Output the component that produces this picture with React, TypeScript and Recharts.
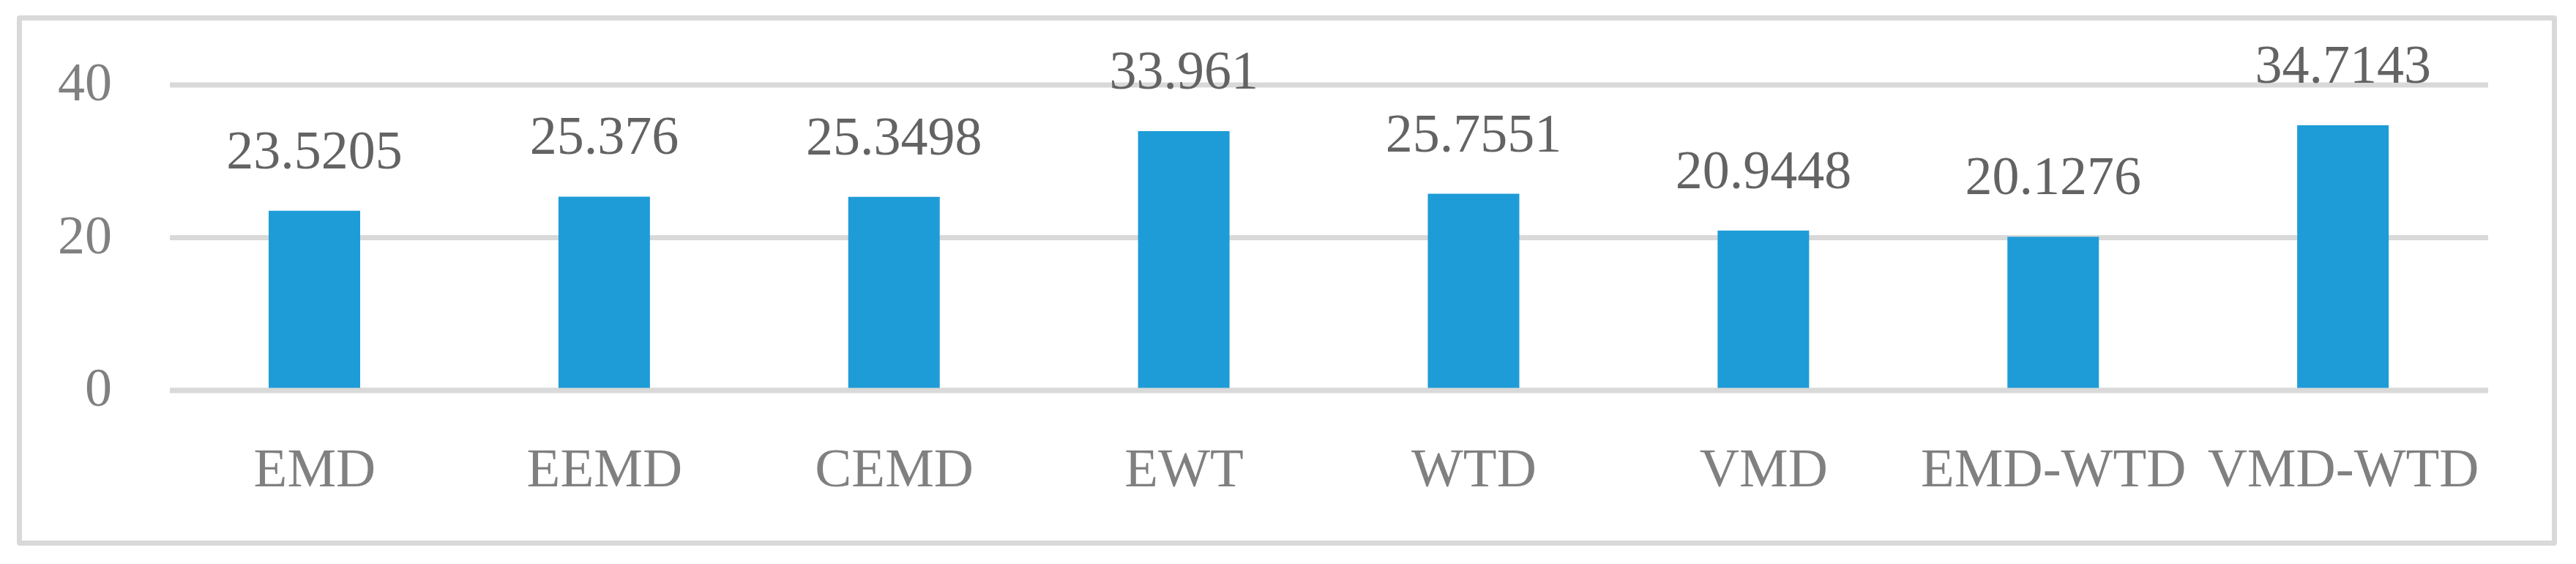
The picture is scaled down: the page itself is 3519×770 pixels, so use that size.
import React from "react";
import {
  BarChart,
  Bar,
  XAxis,
  YAxis,
  CartesianGrid,
  LabelList,
  ReferenceLine,
} from "recharts";

const methods = ["EMD", "EEMD", "CEMD", "EWT", "WTD", "VMD", "EMD-WTD", "VMD-WTD"];
const scores = [23.5205, 25.376, 25.3498, 33.961, 25.7551, 20.9448, 20.1276, 34.7143];
const yTicks = [0, 20, 40];

const data = methods.map((name, i) => ({ name, value: scores[i] }));

const FONT = "'Liberation Serif', 'Times New Roman', serif";
const GRID = "#d9d9d9";

const App: React.FC = () => {
  return (
    <div
      style={{
        position: "absolute",
        left: 0,
        top: 0,
        width: 3519,
        height: 770,
        background: "#fff",
      }}
    >
      <div
        style={{
          position: "absolute",
          left: 23,
          top: 21,
          width: 3470,
          height: 724,
          border: `7px solid ${GRID}`,
          borderRadius: 4,
          boxSizing: "border-box",
        }}
      />
      <div style={{ position: "absolute", left: 0, top: 0 }}>
        <BarChart
          width={3519}
          height={770}
          data={data}
          margin={{ top: 116, right: 120, bottom: 137, left: 0 }}
        >
          <CartesianGrid vertical={false} stroke={GRID} strokeWidth={7} />
          <XAxis
            dataKey="name"
            height={100}
            axisLine={false}
            tickLine={false}
            tickSize={0}
            tickMargin={78}
            interval={0}
            tick={{ fontSize: 75, fill: "#808080", fontFamily: FONT }}
          />
          <YAxis
            width={232}
            domain={[0, 40]}
            ticks={yTicks}
            axisLine={false}
            tickLine={false}
            tickSize={0}
            tickMargin={79}
            tick={{ fontSize: 74, fill: "#808080", fontFamily: FONT, dy: -5 }}
          />
          <Bar dataKey="value" fill="#1e9cd7" barSize={125} isAnimationActive={false}>
            <LabelList
              dataKey="value"
              position="top"
              offset={58}
              style={{ fontSize: 74, fill: "#636363", fontFamily: FONT }}
            />
          </Bar>
          <ReferenceLine y={0} stroke={GRID} strokeWidth={7} />
        </BarChart>
      </div>
    </div>
  );
};

export default App;
